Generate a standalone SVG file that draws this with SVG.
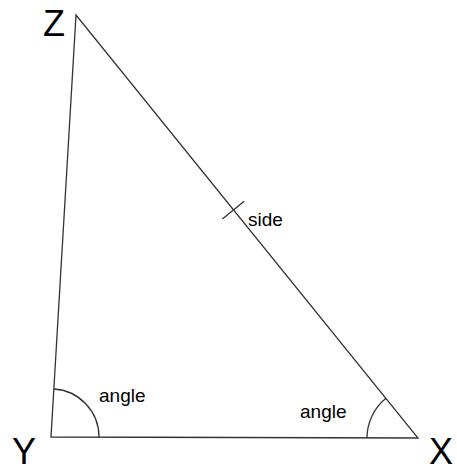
<svg xmlns="http://www.w3.org/2000/svg" width="457" height="467" viewBox="0 0 457 467">
<style>
.ln{stroke:#333;stroke-width:1.3;fill:none}
.v{font-family:"Liberation Sans",Arial,sans-serif;font-size:36px;fill:#000}
.t{font-family:"Liberation Sans",Arial,sans-serif;font-size:19px;fill:#000}
</style>
<rect width="457" height="467" fill="#fff"/>
<g id="connectors">
<path class="ln" d="M76,15 L51,437 L418,438 Z"/>
<line class="ln" x1="222.4" y1="218.9" x2="244.2" y2="201.3"/>
<path class="ln" d="M99,437 A48,48 0 0 0 53.8,389"/>
<path class="ln" d="M367,438 A51,51 0 0 1 386,398.3"/>
</g>
<g id="Z"><text class="v" x="43" y="36">Z</text></g>
<g id="Y"><text class="v" x="12" y="464">Y</text></g>
<g id="X"><text class="v" x="429" y="464">X</text></g>
<g id="side"><text class="t" x="248" y="226">side</text></g>
<g id="angleY"><text class="t" x="99" y="402">angle</text></g>
<g id="angleX"><text class="t" x="300" y="418">angle</text></g>
</svg>
